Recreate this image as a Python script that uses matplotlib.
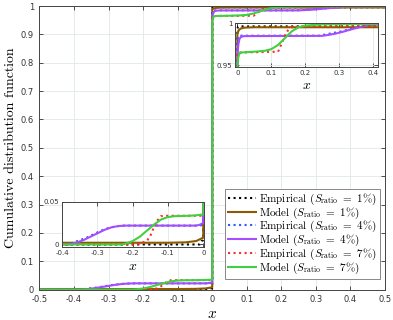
import matplotlib
matplotlib.use("Agg")
import matplotlib.pyplot as plt

plt.rcParams['mathtext.fontset'] = 'cm'

# CDF samples (jump at x = 0)
x_m1 = [-0.5, -0.1, -0.05, -0.02, -0.01, 0, 0, 0.005, 0.01, 0.02, 0.05, 0.5]
y_m1 = [0.002, 0.002, 0.0025, 0.004, 0.006, 0.008, 0.988, 0.992, 0.9935, 0.9945, 0.995, 0.995]

x_e1 = [-0.5, -0.01, -0.005, 0, 0, 0.002, 0.5]
y_e1 = [0.0, 0.0, 0.004, 0.005, 0.993, 0.996, 0.996]

x_m4 = [-0.5, -0.38, -0.36, -0.34, -0.32, -0.30, -0.28, -0.26, -0.24, -0.22, -0.02, -0.01, 0,
        0, 0.003, 0.006, 0.01, 0.02, 0.25, 0.27, 0.29, 0.31, 0.33, 0.35, 0.37, 0.39, 0.41, 0.5]
y_m4 = [0.0, 0.0, 0.002, 0.005, 0.009, 0.013, 0.017, 0.020, 0.0215, 0.022, 0.022, 0.023, 0.025,
        0.962, 0.975, 0.981, 0.9835, 0.9845, 0.9848, 0.986, 0.9875, 0.9895, 0.9918, 0.994, 0.996, 0.9975, 0.998, 0.999]

x_e4 = [-0.5, -0.39, -0.37, -0.35, -0.33, -0.31, -0.29, -0.27, -0.25, -0.23, -0.01, 0,
        0, 0.002, 0.01, 0.24, 0.26, 0.28, 0.30, 0.32, 0.34, 0.36, 0.38, 0.40, 0.5]
y_e4 = [0.0, 0.0, 0.002, 0.005, 0.008, 0.012, 0.016, 0.019, 0.021, 0.022, 0.022, 0.023,
        0.98, 0.984, 0.985, 0.985, 0.9865, 0.988, 0.9895, 0.9915, 0.9935, 0.995, 0.997, 0.998, 0.999]

x_m7 = [-0.5, -0.23, -0.22, -0.20, -0.18, -0.16, -0.14, -0.12, -0.10, -0.08, -0.04, -0.02, 0,
        0, 0.002, 0.005, 0.01, 0.05, 0.08, 0.10, 0.12, 0.14, 0.16, 0.18, 0.20, 0.25, 0.5]
y_m7 = [0.0, 0.0, 0.001, 0.004, 0.009, 0.016, 0.023, 0.029, 0.032, 0.033, 0.0335, 0.034, 0.035,
        0.948, 0.958, 0.963, 0.965, 0.966, 0.967, 0.969, 0.974, 0.982, 0.990, 0.995, 0.997, 0.9985, 0.9993]

x_e7 = [-0.5, -0.20, -0.18, -0.16, -0.15, -0.14, -0.13, -0.12, -0.10, 0,
        0, 0.12, 0.13, 0.14, 0.15, 0.16, 0.20, 0.5]
y_e7 = [0.0, 0.0, 0.001, 0.004, 0.010, 0.020, 0.028, 0.033, 0.0335, 0.0335,
        0.965, 0.966, 0.975, 0.985, 0.992, 0.995, 0.996, 0.997]

series = [
    (x_e1, y_e1, 'black', ':', r'Empirical ($S_{\rm ratio}\ =\ 1\%$)'),
    (x_m1, y_m1, '#8c5a00', '-', r'Model ($S_{\rm ratio}\ =\ 1\%$)'),
    (x_e4, y_e4, '#2b5cff', ':', r'Empirical ($S_{\rm ratio}\ =\ 4\%$)'),
    (x_m4, y_m4, '#a64dff', '-', r'Model ($S_{\rm ratio}\ =\ 4\%$)'),
    (x_e7, y_e7, '#ff2a2a', ':', r'Empirical ($S_{\rm ratio}\ =\ 7\%$)'),
    (x_m7, y_m7, '#3fd13f', '-', r'Model ($S_{\rm ratio}\ =\ 7\%$)'),
]

grid_color = '#dfe8e8'
tick_color = '#333333'


def style(ax, size):
    ax.grid(True, color=grid_color, lw=0.6)
    ax.tick_params(direction='in', labelsize=size, colors=tick_color, length=3,
                   top=True, right=True, width=0.6, pad=2)
    for s in ax.spines.values():
        s.set_color('#444444')
        s.set_linewidth(0.7)


def draw(ax):
    for xs, ys, c, ls, lab in series:
        ax.plot(xs, ys, color=c, ls=ls, lw=1.5, label=lab)


fig = plt.figure(figsize=(3.93, 3.2), dpi=100)
ax = fig.add_axes([0.1005, 0.095, 0.879, 0.886])
draw(ax)
ax.set_xlim(-0.5, 0.5)
ax.set_ylim(0, 1)
ax.set_xticks([-0.5, -0.4, -0.3, -0.2, -0.1, 0, 0.1, 0.2, 0.3, 0.4, 0.5])
ax.set_xticklabels(['-0.5', '-0.4', '-0.3', '-0.2', '-0.1', '0', '0.1', '0.2', '0.3', '0.4', '0.5'])
ax.set_yticks([0, 0.1, 0.2, 0.3, 0.4, 0.5, 0.6, 0.7, 0.8, 0.9, 1])
ax.set_yticklabels(['0', '0.1', '0.2', '0.3', '0.4', '0.5', '0.6', '0.7', '0.8', '0.9', '1'])
style(ax, 6)
ax.tick_params(axis='x', pad=4)
ax.tick_params(axis='y', pad=4)
ax.set_xlabel(r'$x$', fontsize=11, labelpad=1)
ax.set_ylabel('Cumulative distribution function', family='cmr10', fontsize=10, labelpad=3)
leg = ax.legend(loc='lower right', prop={'family': 'cmr10', 'size': 8.0}, fancybox=False,
                framealpha=1, edgecolor='#888888', handlelength=2.5, handletextpad=0.3,
                borderpad=0.25, labelspacing=-0.12, borderaxespad=0,
                bbox_to_anchor=(0.985, 0.037))
leg.get_frame().set_linewidth(0.7)

# upper inset
ax1 = fig.add_axes([0.598, 0.791, 0.364, 0.137])
draw(ax1)
ax1.set_xlim(-0.007, 0.415)
ax1.set_ylim(0.948, 1.0)
ax1.set_xticks([0, 0.1, 0.2, 0.3, 0.4])
ax1.set_xticklabels(['0', '0.1', '0.2', '0.3', '0.4'])
ax1.set_yticks([0.95, 1])
ax1.set_yticklabels(['0.95', '1'])
style(ax1, 5)
ax1.set_xlabel(r'$x$', fontsize=10, labelpad=2)

# lower inset
ax2 = fig.add_axes([0.158, 0.228, 0.361, 0.142])
draw(ax2)
ax2.set_xlim(-0.4, 0.002)
ax2.set_ylim(-0.003, 0.05)
ax2.set_xticks([-0.4, -0.3, -0.2, -0.1, 0])
ax2.set_xticklabels(['-0.4', '-0.3', '-0.2', '-0.1', '0'])
ax2.set_yticks([0, 0.05])
ax2.set_yticklabels(['0', '0.05'])
style(ax2, 5)
ax2.set_xlabel(r'$x$', fontsize=10, labelpad=2)

fig.savefig('out.png', dpi=100)
